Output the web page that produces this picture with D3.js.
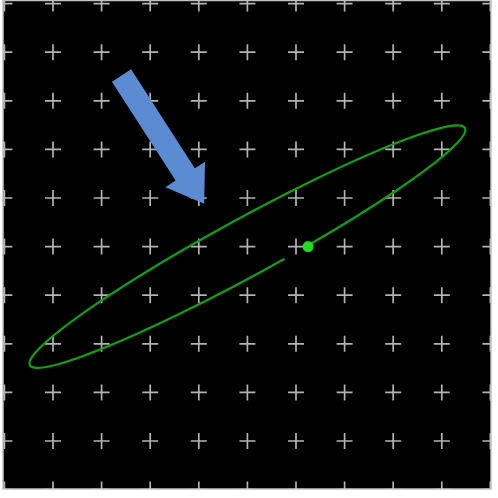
<!DOCTYPE html>
<html>
<head>
<meta charset="utf-8">
<script src="https://cdn.jsdelivr.net/npm/d3@7"></script>
<style>
  html, body { margin: 0; padding: 0; background: #fff; }
  svg { display: block; }
</style>
</head>
<body>
<svg id="scope"></svg>
<script>
// graticule, in divisions from the screen centre
const gridX = [-5, -4, -3, -2, -1, 0, 1, 2, 3, 4, 5];
const gridY = [-5, -4, -3, -2, -1, 0, 1, 2, 3, 4, 5];

// XY trace (tilted ellipse), in divisions
const traceCenter = [0, 0];
const traceRadii = [5.1, 0.59];
const traceTilt = 28.6;            // degrees above horizontal
const tracePhase = [-78, -84];     // start at the spot, stop just short of it

// blue annotation arrow, in divisions
const arrowTail = [-2.59, 3.52];
const arrowTip = [-0.89, 0.88];
const arrowShaft = 0.47;
const arrowHead = [0.97, 0.72];    // width, length

const config = {
    width: 498,
    height: 498,
    screen: {left: 3, top: 0.5, right: 491, bottom: 489},
    crossArm: 8
};

const svg = d3.select('#scope')
    .attr('width', config.width)
    .attr('height', config.height);

// 10 x 10 divisions
const xScale = d3.scaleLinear().domain([-5, 5]).range([4.4, 490.4]);
const yScale = d3.scaleLinear().domain([-5, 5]).range([489.6, 3.6]);
const pxPerDiv = xScale(1) - xScale(0);

const s = config.screen;
svg.append('defs').append('clipPath')
    .attr('id', 'screen-clip')
    .append('rect')
    .attr('x', s.left)
    .attr('y', s.top)
    .attr('width', s.right - s.left)
    .attr('height', s.bottom - s.top);

svg.append('rect')
    .attr('x', s.left)
    .attr('y', s.top)
    .attr('width', s.right - s.left)
    .attr('height', s.bottom - s.top)
    .attr('fill', '#000');

const screen = svg.append('g').attr('clip-path', 'url(#screen-clip)');

// graticule crosses
let crosses = [];
gridX.forEach(gx => gridY.forEach(gy => crosses.push([gx, gy])));

const grid = screen.append('g')
    .attr('stroke', '#b4b4b4')
    .attr('stroke-width', 1.7);

grid.selectAll('.cross')
    .data(crosses)
    .join('path')
    .attr('class', 'cross')
    .attr('d', d => {
        let cx = xScale(d[0]), cy = yScale(d[1]), a = config.crossArm;
        return `M${cx - a},${cy}H${cx + a}M${cx},${cy - a}V${cy + a}`;
    });

// point on the ellipse at a given phase (degrees), in divisions
const tilt = traceTilt * Math.PI / 180;
function onTrace(phaseDeg) {
    let p = phaseDeg * Math.PI / 180;
    let u = traceRadii[0] * Math.cos(p), v = traceRadii[1] * Math.sin(p);
    return [traceCenter[0] + u * Math.cos(tilt) - v * Math.sin(tilt),
            traceCenter[1] + u * Math.sin(tilt) + v * Math.cos(tilt)];
}
const p0 = onTrace(tracePhase[0]);
const p1 = onTrace(tracePhase[1]);

// trace: long way round the ellipse, leaving the gap by the spot
const rx = traceRadii[0] * pxPerDiv;
const ry = traceRadii[1] * pxPerDiv;
screen.append('path')
    .attr('class', 'trace')
    .attr('fill', 'none')
    .attr('stroke', '#12a012')
    .attr('stroke-width', 2.2)
    .attr('stroke-linecap', 'round')
    .attr('d', `M${xScale(p0[0])},${yScale(p0[1])}` +
        `A${rx},${ry} ${-traceTilt} 1 0 ${xScale(p1[0])},${yScale(p1[1])}`);

// beam spot
screen.append('circle')
    .attr('cx', xScale(p0[0]) + 2)
    .attr('cy', yScale(p0[1]))
    .attr('r', 5.5)
    .attr('fill', '#1ee01e');

// arrow
const t0 = [xScale(arrowTail[0]), yScale(arrowTail[1])];
const t1 = [xScale(arrowTip[0]), yScale(arrowTip[1])];
const len = Math.hypot(t1[0] - t0[0], t1[1] - t0[1]);
const dir = [(t1[0] - t0[0]) / len, (t1[1] - t0[1]) / len];
const nrm = [-dir[1], dir[0]];
const sw = arrowShaft * pxPerDiv / 2;
const hw = arrowHead[0] * pxPerDiv / 2;
const hl = arrowHead[1] * pxPerDiv;
const base = [t1[0] - dir[0] * hl, t1[1] - dir[1] * hl];
const pt = (p, k) => [p[0] + nrm[0] * k, p[1] + nrm[1] * k];
const arrowPts = [pt(t0, sw), pt(base, sw), pt(base, hw), t1, pt(base, -hw), pt(base, -sw), pt(t0, -sw)];

screen.append('path')
    .attr('class', 'arrow')
    .attr('fill', '#5b8cd2')
    .attr('d', d3.line()(arrowPts) + 'Z');

// screen border
svg.append('rect')
    .attr('x', s.left)
    .attr('y', s.top)
    .attr('width', s.right - s.left)
    .attr('height', s.bottom - s.top)
    .attr('fill', 'none')
    .attr('stroke', '#c4c4bc')
    .attr('stroke-width', 1.5);
</script>
</body>
</html>
